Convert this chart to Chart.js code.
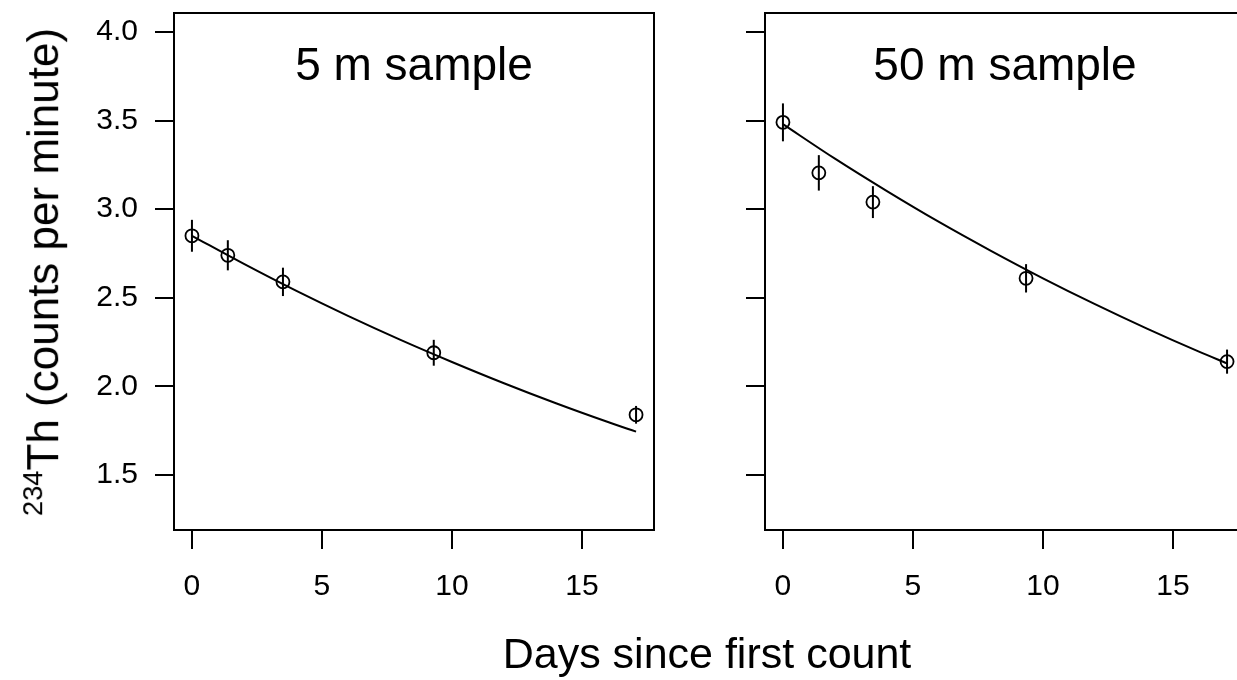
<!DOCTYPE html>
<html>
<head>
<meta charset="utf-8">
<script src="https://cdn.jsdelivr.net/npm/chart.js@4"></script>
<style>
  html, body { margin: 0; padding: 0; background: #fff; overflow: hidden; }
  body { width: 1237px; height: 680px; position: relative; font-family: "Liberation Sans", Arial, sans-serif; color: #000; }
  .panel { position: absolute; top: 0; width: 700px; height: 680px; }
  #leftPanel { left: 0; }
  #rightPanel { left: 591px; }
  .ytitle { position: absolute; left: 42px; top: 272px; transform: translate(-50%, -50%) rotate(-90deg); font-size: 44px; white-space: nowrap; line-height: 1; }
  .ytitle sup { font-size: 0.62em; }
  .xtitle { position: absolute; left: 407px; width: 600px; top: 632px; text-align: center; font-size: 43px; line-height: 1; white-space: nowrap; }
</style>
</head>
<body>
<div class="panel" id="leftPanel"><canvas id="chart5m" width="700" height="680"></canvas></div>
<div class="panel" id="rightPanel"><canvas id="chart50m" width="700" height="680"></canvas></div>
<div class="ytitle"><sup>234</sup>Th (counts per minute)</div>
<div class="xtitle">Days since first count</div>
<script>
// Tick labels
const xTicks = [0, 5, 10, 15];
const yTicks = [1.5, 2.0, 2.5, 3.0, 3.5, 4.0];

// 5 m sample
const days5m = [0, 1.38, 3.5, 9.3, 17.08];
const cpm5m = [2.85, 2.74, 2.59, 2.19, 1.84];
const err5m = [0.09, 0.085, 0.08, 0.073, 0.05];

// 50 m sample
const days50m = [0, 1.38, 3.46, 9.35, 17.08];
const cpm50m = [3.49, 3.205, 3.04, 2.61, 2.14];
const err50m = [0.107, 0.1, 0.09, 0.08, 0.068];

// Fitted decay curves
const fitDays = [0, 2, 4, 6, 8, 10, 12, 14, 16, 17.08];
const fit5m = [2.85, 2.691, 2.54, 2.398, 2.264, 2.138, 2.018, 1.905, 1.799, 1.745];
const fit50m = [3.48, 3.285, 3.102, 2.928, 2.765, 2.61, 2.464, 2.326, 2.196, 2.13];

const FONT = '"Liberation Sans", Arial, sans-serif';

// Error bars + panel title
const makeDecor = (title, days, cpm, err) => ({
  id: "decor",
  afterDatasetsDraw(chart) {
    const { ctx, chartArea, scales } = chart;
    const x = scales.x, y = scales.y;
    ctx.save();
    ctx.strokeStyle = "#000";
    ctx.lineWidth = 2;
    days.forEach((d, i) => {
      const px = x.getPixelForValue(d);
      ctx.beginPath();
      ctx.moveTo(px, y.getPixelForValue(cpm[i] - err[i]));
      ctx.lineTo(px, y.getPixelForValue(cpm[i] + err[i]));
      ctx.stroke();
    });
    ctx.fillStyle = "#000";
    ctx.font = "46px " + FONT;
    ctx.textAlign = "center";
    ctx.textBaseline = "alphabetic";
    ctx.fillText(title, (chartArea.left + chartArea.right) / 2, 80);
    ctx.restore();
  },
});

// no extra room for overhanging labels
const noPad = (s) => {
  s.paddingTop = 0;
  s.paddingBottom = 0;
  s.paddingLeft = 0;
  s.paddingRight = 0;
};

const makePanel = (canvasId, title, days, cpm, err, fit, showYLabels) => {
  const ctx = document.getElementById(canvasId).getContext("2d");
  const tickGrid = {
    drawOnChartArea: false,
    drawTicks: true,
    tickLength: 19,
    tickColor: "#000",
    lineWidth: 2,
  };
  const border = { display: true, color: "#000", width: 2 };
  new Chart(ctx, {
    type: "scatter",
    data: {
      datasets: [
        {
          data: fitDays.map((d, i) => ({ x: d, y: fit[i] })),
          showLine: true,
          borderColor: "#000",
          borderWidth: 2,
          pointRadius: 0,
          cubicInterpolationMode: "monotone",
        },
        {
          data: days.map((d, i) => ({ x: d, y: cpm[i] })),
          showLine: false,
          pointStyle: "circle",
          pointRadius: 6.5,
          pointBorderWidth: 1.8,
          pointBorderColor: "#000",
          pointBackgroundColor: "rgba(0,0,0,0)",
        },
      ],
    },
    options: {
      responsive: false,
      animation: false,
      devicePixelRatio: 1,
      layout: { padding: { top: 13, right: 46, bottom: 0, left: 0 } },
      plugins: { legend: { display: false }, tooltip: { enabled: false } },
      scales: {
        x: {
          type: "linear",
          position: "bottom",
          min: -0.69,
          max: 17.77,
          afterBuildTicks: (s) => { s.ticks = xTicks.map((v) => ({ value: v })); },
          afterFit: (s) => { s.height = 150; noPad(s); },
          ticks: {
            color: "#000",
            font: { size: 30, family: FONT },
            padding: 20,
            maxRotation: 0,
            autoSkip: false,
            callback: (v) => String(v),
          },
          grid: tickGrid,
          border: border,
        },
        y: {
          type: "linear",
          position: "left",
          min: 1.19,
          max: 4.107,
          afterBuildTicks: (s) => { s.ticks = yTicks.map((v) => ({ value: v })); },
          afterFit: (s) => { s.width = 174; noPad(s); },
          ticks: {
            color: showYLabels ? "#000" : "rgba(0,0,0,0)",
            font: { size: 30, family: FONT },
            padding: 17,
            autoSkip: false,
            callback: (v) => Number(v).toFixed(1),
          },
          grid: tickGrid,
          border: border,
        },
        xTop: {
          type: "linear",
          position: "top",
          ticks: { display: false },
          grid: { display: false },
          border: border,
          afterFit: (s) => { s.height = 0; noPad(s); },
        },
        yRight: {
          type: "linear",
          position: "right",
          ticks: { display: false },
          grid: { display: false },
          border: border,
          afterFit: (s) => { s.width = 0; noPad(s); },
        },
      },
    },
    plugins: [makeDecor(title, days, cpm, err)],
  });
};

makePanel("chart5m", "5 m sample", days5m, cpm5m, err5m, fit5m, true);
makePanel("chart50m", "50 m sample", days50m, cpm50m, err50m, fit50m, false);
</script>
</body>
</html>
